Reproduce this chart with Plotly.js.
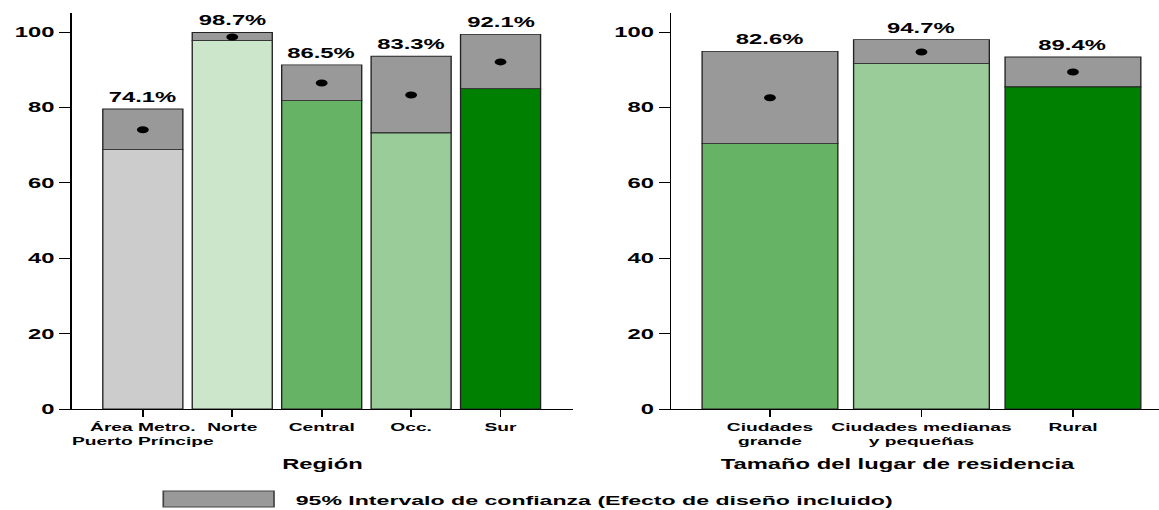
<!DOCTYPE html>
<html><head><meta charset="utf-8">
<script src="https://cdn.plot.ly/plotly-3.0.1.min.js"></script>
<style>
html,body{margin:0;padding:0;overflow:hidden;background:#fff;}
#chart{width:682px;height:510px;transform:scaleX(1.69941);transform-origin:0 0;}
</style></head><body><div id="chart"></div>
<script>
// ---- data ----
const regionCategories = ['Área Metro.<br>Puerto Príncipe', 'Norte', 'Central', 'Occ.', 'Sur'];
const regionEstimate = [74.1, 98.7, 86.5, 83.3, 92.1];
const regionLower = [68.8, 97.8, 81.8, 73.3, 85.0];
const regionUpper = [79.6, 99.9, 91.3, 93.6, 99.4];
const regionColors = ['#cccccc', '#cce6cc', '#66b366', '#99cc99', '#008000'];

const sizeCategories = ['Ciudades<br>grande', 'Ciudades medianas<br>y pequeñas', 'Rural'];
const sizeEstimate = [82.6, 94.7, 89.4];
const sizeLower = [70.4, 91.7, 85.5];
const sizeUpper = [94.9, 98.0, 93.4];
const sizeColors = ['#66b366', '#99cc99', '#008000'];

const yTicks = [0, 20, 40, 60, 80, 100];
const axisTitles = ['Región', 'Tamaño del lugar de residencia'];
const legendLabel = '95% Intervalo de confianza (Efecto de diseño incluido)';
const ciColor = '#999999';

// ---- build ----
const FONT = '"Liberation Sans", Arial, Helvetica, sans-serif';
const outline = {color: '#222222', width: 0.8};

function panel(cats, est, lo, hi, colors, xa, ya, w) {
  return [
    {type: 'bar', x: cats, y: lo, xaxis: xa, yaxis: ya, width: w,
     marker: {color: colors, line: outline}, hoverinfo: 'skip'},
    {type: 'bar', x: cats, y: hi.map((h, i) => h - lo[i]), base: lo, xaxis: xa, yaxis: ya, width: w,
     marker: {color: ciColor, line: outline}, hoverinfo: 'skip'},
    {type: 'scatter', mode: 'markers', x: cats, y: est, xaxis: xa, yaxis: ya,
     marker: {color: '#000', size: 7}, hoverinfo: 'skip'}
  ];
}
function labels(cats, est, hi, xa, ya) {
  return cats.map((c, i) => ({
    xref: xa, yref: ya, x: c, y: hi[i], xanchor: 'center', yanchor: 'bottom', yshift: 2,
    text: est[i].toFixed(1) + '%', showarrow: false,
    font: {family: FONT, size: 14, weight: 'bold', color: '#000'}
  }));
}

const data = [].concat(
  panel(regionCategories, regionEstimate, regionLower, regionUpper, regionColors, 'x', 'y', 0.895),
  panel(sizeCategories, sizeEstimate, sizeLower, sizeUpper, sizeColors, 'x2', 'y2', 0.896)
);

function xAxis(domain, range, anchor) {
  return {domain: domain, range: range, type: 'category', anchor: anchor, tickangle: 0,
    showline: true, linecolor: '#000', linewidth: 1, ticks: 'outside', ticklen: 7, tickwidth: 1,
    tickcolor: '#000', showgrid: false, zeroline: false, fixedrange: true,
    tickfont: {family: FONT, size: 11.3, weight: 'bold', color: '#000'}};
}
function yAxis(anchor) {
  return {domain: [0.198, 0.974], range: [0, 105], tickvals: yTicks, anchor: anchor,
    showline: true, linecolor: '#000', linewidth: 1, ticks: 'outside', ticklen: 6.5, tickwidth: 1,
    tickcolor: '#000', showgrid: false, zeroline: false, fixedrange: true,
    tickfont: {family: FONT, size: 14, weight: 'bold', color: '#000'}};
}

const layout = {
  width: 682, height: 510, margin: {l: 0, r: 0, t: 0, b: 0},
  paper_bgcolor: '#fff', plot_bgcolor: '#fff', showlegend: false, barmode: 'overlay',
  font: {family: FONT, color: '#000'},
  xaxis: xAxis([72 / 1159, 573 / 1159], [-0.792, 4.81], 'y'),
  yaxis: yAxis('x'),
  xaxis2: xAxis([671.5 / 1159, 1], [-0.65, 2.568], 'y2'),
  yaxis2: yAxis('x2'),
  shapes: [
    {type: 'rect', xref: 'paper', yref: 'paper', x0: 163.3 / 1159, x1: 274 / 1159, y0: 3 / 510, y1: 19 / 510,
     fillcolor: ciColor, line: {color: '#444', width: 1}}
  ],
  annotations: [].concat(
    labels(regionCategories, regionEstimate, regionUpper, 'x', 'y'),
    labels(sizeCategories, sizeEstimate, sizeUpper, 'x2', 'y2'),
    [
      {xref: 'paper', yref: 'paper', x: 322.5 / 1159, y: (510 - 464.3) / 510, xanchor: 'center', yanchor: 'middle',
       text: axisTitles[0], showarrow: false, font: {family: FONT, size: 14, weight: 'bold', color: '#000'}},
      {xref: 'paper', yref: 'paper', x: 897.7 / 1159, y: (510 - 464.3) / 510, xanchor: 'center', yanchor: 'middle',
       text: axisTitles[1], showarrow: false, font: {family: FONT, size: 14, weight: 'bold', color: '#000'}},
      {xref: 'paper', yref: 'paper', x: 292 / 1159, y: (510 - 500.5) / 510, xanchor: 'left', yanchor: 'middle',
       text: legendLabel, showarrow: false, font: {family: FONT, size: 13.6, weight: 'bold', color: '#000'}}
    ]
  )
};

Plotly.newPlot('chart', data, layout, {displayModeBar: false, staticPlot: true});
</script></body></html>
